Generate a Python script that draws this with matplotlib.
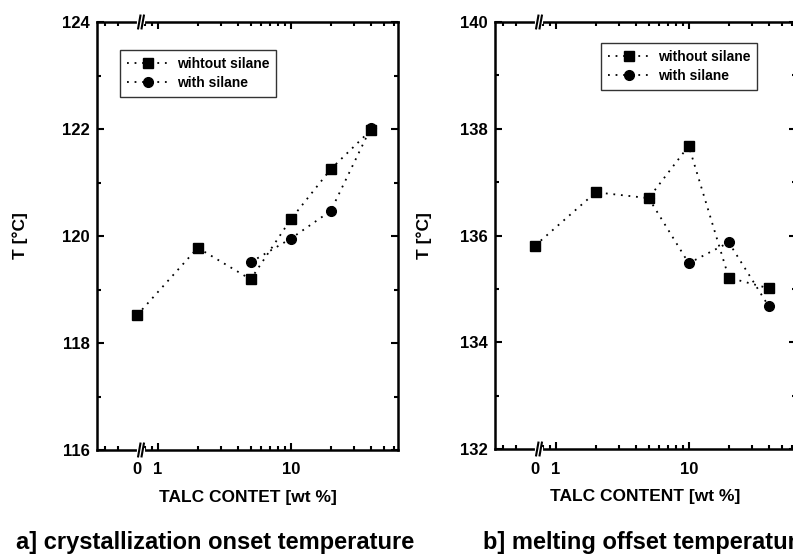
import matplotlib
matplotlib.use('Agg')
import matplotlib.pyplot as plt
import matplotlib.transforms as mtransforms
from matplotlib.ticker import FixedLocator, NullFormatter
import numpy as np

plt.rcParams['font.family'] = ['Liberation Sans', 'DejaVu Sans']
plt.rcParams['font.weight'] = 'bold'

# talc content [wt %]; 0 is drawn at ZERO_POS on the broken log axis
talc = [0, 2, 5, 10, 20, 40]
talc_silane = [5, 10, 20, 40]

# a] crystallization onset temperature
cryst_without = [118.52, 119.78, 119.19, 120.31, 121.25, 121.98]
cryst_with = [119.51, 119.95, 120.47, 122.02]

# b] melting offset temperature
melt_without = [135.81, 136.81, 136.70, 137.68, 135.21, 135.01]
melt_with = [136.70, 135.48, 135.87, 134.67]

ZERO_POS = 0.70
BREAK_X = 0.75
XMIN, XMAX = 0.35, 64


def xpos(values):
    values = np.asarray(values, dtype=float)
    return np.where(values == 0, ZERO_POS, values)


def panel(ax, ys_without, ys_with, ylim, xlabel, labels, legend_box, ylabel_x):
    lw_dot = (0, (1, 3.2))
    h_with, = ax.plot(xpos(talc_silane), ys_with, color='black', ls=lw_dot, lw=1.3,
                      marker='o', ms=7, label=labels[1], zorder=3)
    h_without, = ax.plot(xpos(talc), ys_without, color='black', ls=lw_dot, lw=1.3,
                         marker='s', ms=6.5, label=labels[0], zorder=4)

    ax.set_xscale('log')
    ax.set_xlim(XMIN, XMAX)
    ax.set_ylim(*ylim)

    ax.xaxis.set_major_locator(FixedLocator([ZERO_POS, 1, 10]))
    ax.set_xticklabels(['0', '1', '10'])
    minor = [0.4, 0.5, 0.8, 0.9] + list(range(2, 10)) + [20, 30, 40, 50, 60]
    ax.xaxis.set_minor_locator(FixedLocator(minor))
    ax.xaxis.set_minor_formatter(NullFormatter())
    ax.set_yticks(np.arange(ylim[0], ylim[1] + 0.1, 2))
    ax.set_yticks(np.arange(ylim[0] + 1, ylim[1], 2), minor=True)

    ax.tick_params(which='both', direction='in', top=True, right=True,
                   width=1.5, labelsize=12)
    ax.tick_params(which='major', length=5)
    ax.tick_params(which='minor', length=3)
    ax.tick_params(axis='x', pad=9)
    ax.tick_params(axis='y', pad=5)
    for t in ax.xaxis.get_major_ticks()[:1]:
        t.tick1line.set_visible(False)
        t.tick2line.set_visible(False)
    for sp in ax.spines.values():
        sp.set_linewidth(1.8)

    ax.set_xlabel(xlabel, fontsize=12.5, fontweight='bold', labelpad=9)
    ax.set_ylabel('T [°C]', fontsize=12.5, fontweight='bold')
    ax.yaxis.set_label_coords(ylabel_x, 0.5)

    leg = ax.legend([h_without, h_with], labels, loc='upper left',
                    bbox_to_anchor=legend_box, borderaxespad=0,
                    fancybox=False, frameon=True, fontsize=10, handlelength=3.0,
                    labelspacing=0.35, borderpad=0.5, handletextpad=0.6)
    leg.get_frame().set_edgecolor('black')
    leg.get_frame().set_linewidth(1.0)
    for t in leg.get_texts():
        t.set_fontweight('bold')

    # axis break marks on bottom and top spines
    trans = mtransforms.blended_transform_factory(ax.transData, ax.transAxes)
    for yb in (0, 1):
        ax.plot([BREAK_X * 0.96, BREAK_X * 1.04], [yb, yb], color='white', lw=3,
                transform=trans, clip_on=False, zorder=5)
        for dx in (0.97, 1.03):
            ax.plot([BREAK_X * dx * 0.98, BREAK_X * dx * 1.02], [yb - 0.015, yb + 0.015],
                    color='black', lw=1.5, transform=trans, clip_on=False, zorder=6)


fig = plt.figure(figsize=(7.93, 5.59), dpi=100)
ax1 = fig.add_axes([97 / 793, 109 / 559, 301 / 793, 428 / 559])
ax2 = fig.add_axes([495 / 793, 110 / 559, 301 / 793, 427 / 559])

panel(ax1, cryst_without, cryst_with, (116, 124), 'TALC CONTET [wt %]',
      ['wihtout silane', 'with silane'], (0.076, 0.935), -0.23)
panel(ax2, melt_without, melt_with, (132, 140), 'TALC CONTENT [wt %]',
      ['without silane', 'with silane'], (0.352, 0.95), -0.21)

fig.text(16 / 793, 1 - 543 / 559, 'a] crystallization onset temperature',
         fontsize=17, fontweight='bold', va='center', ha='left')
fig.text(483 / 793, 1 - 543 / 559, 'b] melting offset temperature',
         fontsize=17, fontweight='bold', va='center', ha='left')

fig.savefig('out.png', dpi=100, facecolor='white')
